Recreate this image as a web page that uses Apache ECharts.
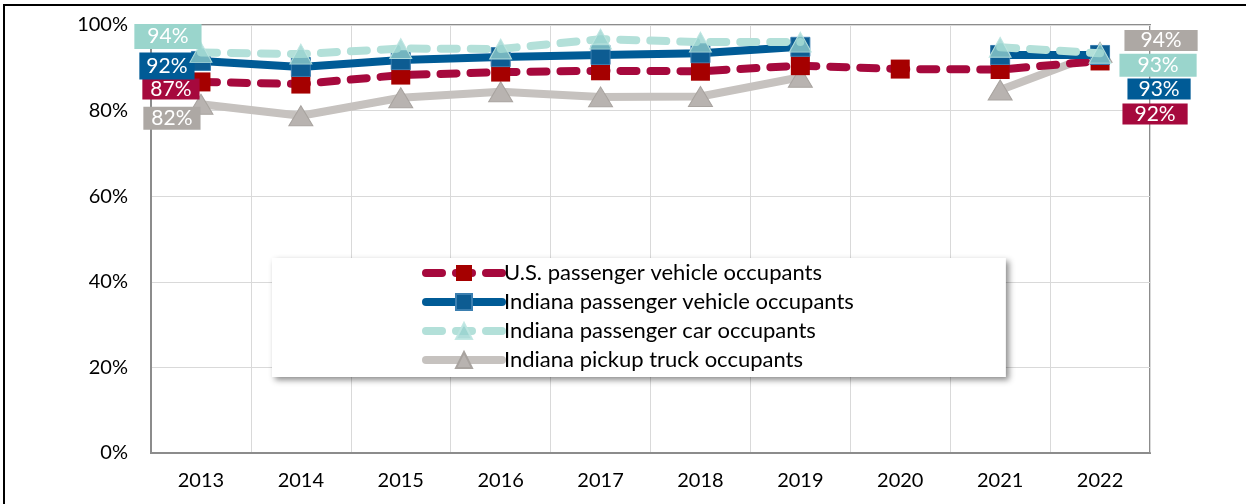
<!DOCTYPE html>
<html>
<head>
<meta charset="utf-8">
<script src="https://cdn.jsdelivr.net/npm/echarts@6/dist/echarts.min.js"></script>
<style>
  html, body { margin: 0; padding: 0; background: #fff; }
  #chart { width: 1246px; height: 504px; }
</style>
</head>
<body>
<div id="chart"></div>
<script>
// 数据
var years = ['2013', '2014', '2015', '2016', '2017', '2018', '2019', '2020', '2021', '2022'];
var usVehicle = [86.7, 86.2, 88.3, 89.0, 89.3, 89.2, 90.5, 89.7, 89.6, 91.6];
var inVehicle = [91.6, 90.2, 91.8, 92.5, 93.0, 93.4, 94.9, null, 93.0, 93.0];
var inCar = [93.6, 93.2, 94.5, 94.4, 96.7, 96.0, 96.0, null, 94.8, 93.4];
var inTruck = [81.5, 78.8, 83.0, 84.4, 83.2, 83.3, 87.8, null, 84.8, 93.6];
var yTicks = [0, 20, 40, 60, 80, 100];

var FONT = 'Lato, "Open Sans", sans-serif';

// 首尾数据标签
function mkData(arr, bg, first, last) {
    return arr.map(function (v, i) {
        if (v === null) return null;
        var cfg = i === 0 ? first : (i === arr.length - 1 ? last : null);
        if (!cfg) return v;
        return {
            value: v,
            label: {
                show: true,
                position: 'inside',
                offset: cfg.offset,
                formatter: Math.round(v) + '%',
                color: '#fff',
                fontSize: 21,
                fontFamily: FONT,
                backgroundColor: bg,
                padding: cfg.padding
            }
        };
    });
}

var option = {
    animation: false,
    backgroundColor: '#fff',
    graphic: [{
        type: 'rect',
        shape: { x: 4, y: 5, width: 1300, height: 600 },
        style: { fill: 'none', stroke: '#000', lineWidth: 2 },
        silent: true
    }],
    grid: {
        left: 151, right: 96, top: 25, bottom: 51,
        show: true,
        borderColor: '#8c8c8c',
        borderWidth: 2
    },
    legend: {
        left: 272,
        top: 258,
        orient: 'vertical',
        data: ['U.S. passenger vehicle occupants', 'Indiana passenger vehicle occupants',
               'Indiana passenger car occupants', 'Indiana pickup truck occupants'],
        itemWidth: 76,
        itemHeight: 20,
        itemGap: 7,
        padding: [4, 152, 6, 150],
        backgroundColor: '#fff',
        lineStyle: { width: 8, cap: 'round' },
        shadowColor: 'rgba(0,0,0,0.45)',
        shadowBlur: 6,
        shadowOffsetX: 3,
        shadowOffsetY: 3,
        textStyle: { fontSize: 22, fontFamily: FONT, color: '#000', padding: [0, 0, 0, -3] }
    },
    xAxis: {
        type: 'category',
        data: years,
        boundaryGap: true,
        axisLine: { lineStyle: { color: '#8c8c8c', width: 2 } },
        axisTick: { show: false },
        axisLabel: { fontSize: 20, fontFamily: FONT, color: '#000', margin: 18 },
        splitLine: { show: true, interval: 0, lineStyle: { color: '#d9d9d9', width: 1 } }
    },
    yAxis: {
        type: 'value',
        min: 0, max: 100, interval: 20,
        axisLine: { show: true, lineStyle: { color: '#8c8c8c', width: 2 } },
        axisTick: { show: false },
        axisLabel: {
            fontSize: 20, fontFamily: FONT, color: '#000', margin: 23,
            formatter: function (v) { return yTicks.indexOf(v) >= 0 ? v + '%' : ''; }
        },
        splitLine: { lineStyle: { color: '#d9d9d9', width: 1 } }
    },
    series: [
        {
            name: 'U.S. passenger vehicle occupants',
            type: 'line',
            z: 3,
            data: mkData(usVehicle, '#a6093d',
                { offset: [-30, 7], padding: [0, 8, 0, 8] },
                { offset: [55, 53], padding: [0, 12, 0, 12] }),
            lineStyle: { color: '#a6093d', width: 8, type: [16, 14], cap: 'round' },
            symbol: 'rect',
            symbolSize: 19,
            itemStyle: { color: '#a50000', opacity: 1 }
        },
        {
            name: 'Indiana passenger vehicle occupants',
            type: 'line',
            z: 4,
            data: mkData(inVehicle, '#005b96',
                { offset: [-34, 5], padding: [3, 7, 3, 7] },
                { offset: [59, 34], padding: [0, 11, 0, 11] }),
            lineStyle: { color: '#005b96', width: 8, cap: 'round' },
            symbol: 'rect',
            symbolSize: 19,
            itemStyle: { color: '#0d5c92', borderColor: '#3b7fb0', borderWidth: 1 }
        },
        {
            name: 'Indiana passenger car occupants',
            type: 'line',
            z: 5,
            data: mkData(inCar, '#9ad5cc',
                { offset: [-33, -16], padding: [2, 13, 2, 13] },
                { offset: [58, 12], padding: [1, 18, 1, 18] }),
            lineStyle: { color: '#b3e0d9', width: 8, type: [16, 14], cap: 'round' },
            symbol: 'triangle',
            symbolSize: [22, 20],
            itemStyle: { color: 'rgba(150,210,205,0.75)', borderColor: 'rgba(190,230,225,0.9)', borderWidth: 1 }
        },
        {
            name: 'Indiana pickup truck occupants',
            type: 'line',
            z: 2,
            data: mkData(inTruck, '#ada8a4',
                { offset: [-29, 14], padding: [1, 8, 1, 8] },
                { offset: [61, -12], padding: [0, 16, 0, 16] }),
            lineStyle: { color: '#c6c2bf', width: 8, cap: 'round' },
            symbol: 'triangle',
            symbolSize: [24, 20],
            itemStyle: { color: '#b8b3b0', borderColor: '#a8a39f', borderWidth: 1 }
        }
    ]
};

var myChart = echarts.init(document.getElementById('chart'));
myChart.setOption(option);
</script>
</body>
</html>
